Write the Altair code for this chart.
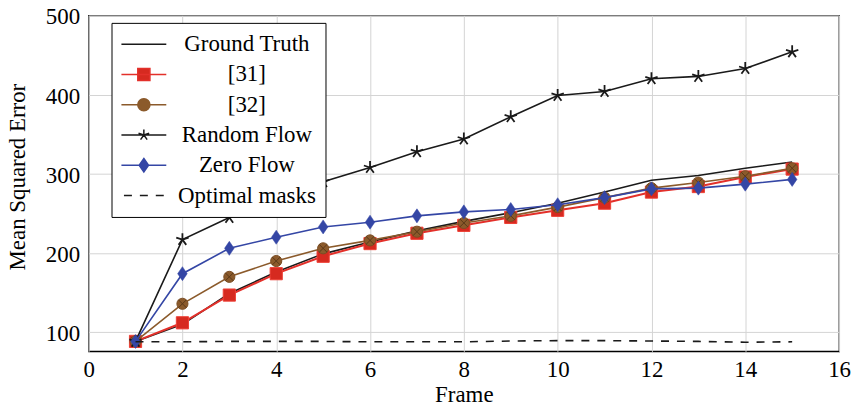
import altair as alt
import pandas as pd

frames = list(range(1, 16))
ground_truth = [88.5, 110, 149, 176, 199, 214, 228, 240, 251, 263, 277, 292, 298, 307, 315]
ref31 = [88.5, 112, 147, 174, 196, 212, 225, 235, 245, 254, 263, 277, 284, 296, 306]
ref32 = [88.5, 136, 170, 190, 206, 216, 227, 238, 247, 258, 270, 282, 289, 297, 307]
random_flow = [88.5, 217, 245, 268, 290, 308, 328, 344, 372, 399, 404, 420, 423, 433, 454]
zero_flow = [88.5, 174, 206, 220, 233, 239, 247, 252, 255, 261, 270, 281, 282, 287, 293]
optimal_masks = [88, 88, 88.5, 88.5, 88.5, 88, 88, 88, 89, 89.5, 89.5, 89, 88.5, 87.5, 88]

series_names = ["Ground Truth", "[31]", "[32]", "Random Flow", "Zero Flow", "Optimal masks"]
series_values = [ground_truth, ref31, ref32, random_flow, zero_flow, optimal_masks]

x_ticks = list(range(0, 17, 2))
y_ticks = [100, 200, 300, 400, 500]

rows = []
for name, vals in zip(series_names, series_values):
    for f, v in zip(frames, vals):
        rows.append({"series": name, "frame": f, "mse": v})
df = pd.DataFrame(rows)

FONT = "Liberation Serif"
BLACK = "#1a1a1a"
RED = "#e3302a"
RED_FILL = "#d62a20"
BROWN = "#8b5a2b"
BROWN_DARK = "#5a3818"
BLUE = "#3446a5"

STAR = "M0,0L0,-1M0,0L-0.951,-0.309M0,0L-0.588,0.809M0,0L0.588,0.809M0,0L0.951,-0.309"
DIAMOND = "M0,-1L0.68,0L0,1L-0.68,0Z"
XCROSS = "M-0.707,-0.707L0.707,0.707M-0.707,0.707L0.707,-0.707"

legend_paths = [
    "M-1.96,0L1.96,0",
    "M-1.96,0L1.96,0M-0.53,-0.53L0.53,-0.53L0.53,0.53L-0.53,0.53Z",
    "M-1.96,0L1.96,0M-0.53,0A0.53,0.53,0,1,0,0.53,0A0.53,0.53,0,1,0,-0.53,0Z",
    "M-1.96,0L1.96,0M0,0L0,-0.49M0,0L-0.466,-0.151M0,0L-0.288,0.396M0,0L0.288,0.396M0,0L0.466,-0.151",
    "M-1.96,0L1.96,0M0,-0.59L0.41,0L0,0.59L-0.41,0Z",
    "M-1.739,0L-1.043,0M-0.348,0L0.348,0M1.043,0L1.739,0",
]
legend_fill = [BLACK, RED_FILL, BROWN, BLACK, BLUE, BLACK]
legend_stroke = [BLACK, RED, BROWN, BLACK, BLUE, BLACK]

x_enc = alt.X(
    "frame:Q",
    scale=alt.Scale(domain=[0, 16], nice=False, zero=False),
    axis=alt.Axis(values=x_ticks, title="Frame", labelPadding=7, labelFlush=False,
                  titleY=50, titleBaseline="alphabetic"),
)
y_enc = alt.Y(
    "mse:Q",
    scale=alt.Scale(domain=[76, 500], nice=False, zero=False),
    axis=alt.Axis(values=y_ticks, title="Mean Squared Error", labelPadding=9, labelFlush=False,
                  labelOffset=1.5,
                  titleX=-64, titleY=162, titleAngle=270, titleAlign="center",
                  titleBaseline="alphabetic"),
)

base = alt.Chart(df)
layers = []

styles = {
    "Ground Truth": dict(line=dict(color=BLACK, strokeWidth=1.6), point=None),
    "[31]": dict(line=dict(color=RED, strokeWidth=2.0),
                 point=dict(shape="square", size=150, filled=True, fill=RED_FILL, stroke="#ee4035", strokeWidth=1)),
    "[32]": dict(line=dict(color=BROWN, strokeWidth=1.6),
                 point=dict(shape="circle", size=125, filled=True, fill=BROWN, stroke="#7a4e24", strokeWidth=1)),
    "Random Flow": dict(line=dict(color=BLACK, strokeWidth=1.6),
                        point=dict(shape=STAR, size=170, filled=False, stroke=BLACK, strokeWidth=1.8)),
    "Zero Flow": dict(line=dict(color=BLUE, strokeWidth=1.6),
                      point=dict(shape=DIAMOND, size=200, filled=True, fill=BLUE, stroke=BLUE, strokeWidth=0.5)),
    "Optimal masks": dict(line=dict(color=BLACK, strokeWidth=1.6, strokeDash=[8, 8]), point=None),
}

for name in series_names:
    st = styles[name]
    sub = base.transform_filter(alt.datum.series == name)
    layers.append(sub.mark_line(strokeCap="butt", **st["line"]).encode(x=x_enc, y=y_enc))
    if st["point"] is not None:
        layers.append(sub.mark_point(opacity=1, **st["point"]).encode(x=x_enc, y=y_enc))
    if name == "[32]":
        layers.append(sub.mark_point(shape=XCROSS, size=125, filled=False, stroke=BROWN_DARK,
                                     strokeWidth=1, opacity=1).encode(x=x_enc, y=y_enc))

leg = alt.Legend(
    title=None, orient="none", legendX=23, legendY=7.5, padding=9,
    strokeColor="black", fillColor="white", cornerRadius=0,
    labelFont=FONT, labelFontSize=23, labelColor="black", labelAlign="center",
    labelOffset=91, symbolOffset=11, rowPadding=5.4, symbolSize=529, symbolStrokeWidth=1.5,
    symbolOpacity=1,
)
legend_layer = base.mark_point(opacity=0, filled=True, size=10).encode(
    x=x_enc, y=y_enc,
    shape=alt.Shape("series:N", scale=alt.Scale(domain=series_names, range=legend_paths), legend=leg),
    fill=alt.Fill("series:N", scale=alt.Scale(domain=series_names, range=legend_fill), legend=leg),
    stroke=alt.Stroke("series:N", scale=alt.Scale(domain=series_names, range=legend_stroke), legend=leg),
)
layers.append(legend_layer)

chart = alt.layer(*layers).properties(
    width=754, height=337.5,
    padding={"left": 81, "top": 6.5, "right": 14, "bottom": 55},
    autosize=alt.AutoSizeParams(type="none"),
    background="white",
).configure_view(
    stroke="black", strokeWidth=1.3,
).configure_axis(
    labelFont=FONT, labelFontSize=23, labelColor="black",
    titleFont=FONT, titleFontSize=23, titleColor="black", titleFontWeight="normal",
    grid=True, gridColor="#d4d4d4", gridWidth=1,
    ticks=False, domain=False,
)

chart.save("out.html", embed_options={"renderer": "svg", "actions": False})
